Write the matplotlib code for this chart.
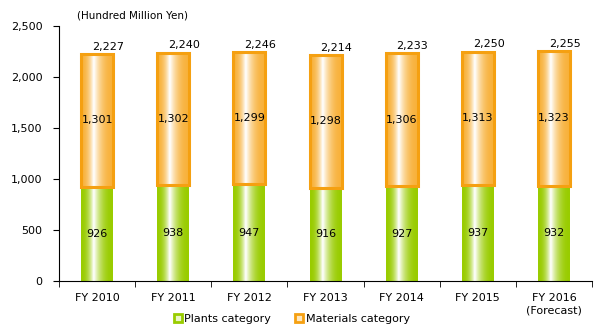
import numpy as np
import matplotlib
matplotlib.use("Agg")
import matplotlib.pyplot as plt
from matplotlib.colors import LinearSegmentedColormap
from matplotlib.lines import Line2D

years = ['FY 2010', 'FY 2011', 'FY 2012', 'FY 2013', 'FY 2014', 'FY 2015', 'FY 2016\n(Forecast)']
plants = [926, 938, 947, 916, 927, 937, 932]
materials = [1301, 1302, 1299, 1298, 1306, 1313, 1323]
totals = [2227, 2240, 2246, 2214, 2233, 2250, 2255]

green = '#99CC00'
orange = '#F5A011'

plt.rcParams['font.family'] = ['DejaVu Sans']
fig = plt.figure(figsize=(6.06, 3.36), dpi=100)
ax = fig.add_axes([0.0974, 0.1637, 0.8796, 0.7589])

x = np.arange(len(years))
w = 0.42

# horizontal shading: coloured at the sides, white just left of centre
prof = np.concatenate([np.linspace(0, 1, 40) ** 2.2, np.linspace(1, 0, 60) ** 2.2])
grad = prof.reshape(1, -1)
cmap_g = LinearSegmentedColormap.from_list('g', [green, '#ffffff'])
cmap_o = LinearSegmentedColormap.from_list('o', ['#F8B23C', '#ffffff'])

b1 = ax.bar(x, plants, w, color='none', edgecolor='none')
b2 = ax.bar(x, materials, w, bottom=plants, color='none', edgecolor=orange, linewidth=2.2, zorder=3)

for i in range(len(years)):
    im = ax.imshow(grad, cmap=cmap_g, extent=[x[i] - w / 2, x[i] + w / 2, 0, plants[i]],
                   aspect='auto', zorder=2, interpolation='bilinear')
    im.set_clip_path(b1[i])
    im = ax.imshow(grad, cmap=cmap_o, extent=[x[i] - w / 2, x[i] + w / 2, plants[i], totals[i]],
                   aspect='auto', zorder=2, interpolation='bilinear')
    im.set_clip_path(b2[i])
    ax.text(x[i], plants[i] / 2, f'{plants[i]:,}', ha='center', va='center', fontsize=8, zorder=4)
    ax.text(x[i], plants[i] + materials[i] / 2, f'{materials[i]:,}', ha='center', va='center',
            fontsize=8, zorder=4)
    ax.text(x[i] + 0.14, totals[i] + 20, f'{totals[i]:,}', ha='center', va='bottom', fontsize=8, zorder=4)

ax.set_xlim(-0.5, len(years) - 0.5)
ax.set_ylim(0, 2500)
ax.set_yticks(range(0, 2501, 500))
ax.set_yticklabels([f'{v:,}' for v in range(0, 2501, 500)], fontsize=8)
ax.set_xticks(x)
ax.set_xticklabels(years, fontsize=8)
ax.set_xticks(np.arange(-0.5, len(years), 1), minor=True)
ax.tick_params(axis='x', which='major', length=0, pad=9)
ax.tick_params(axis='x', which='minor', length=4, direction='out')
ax.tick_params(axis='y', length=4, direction='out', pad=8)
for s in ['top', 'right']:
    ax.spines[s].set_visible(False)

fig.text(0.127, 0.955, '(Hundred Million Yen)', fontsize=7.5, va='center')

handles = [
    Line2D([], [], marker='s', linestyle='none', markersize=6, markerfacecolor='#eaf5c8',
           markeredgecolor=green, markeredgewidth=2),
    Line2D([], [], marker='s', linestyle='none', markersize=6, markerfacecolor='#fde7c0',
           markeredgecolor=orange, markeredgewidth=2),
]
fig.legend(handles, ['Plants category', 'Materials category'], loc='center',
           bbox_to_anchor=(0.48, 0.052), ncol=2, frameon=False, fontsize=8,
           handletextpad=0.1, columnspacing=2.0, handlelength=1.0)

fig.savefig('out.png', dpi=100)
